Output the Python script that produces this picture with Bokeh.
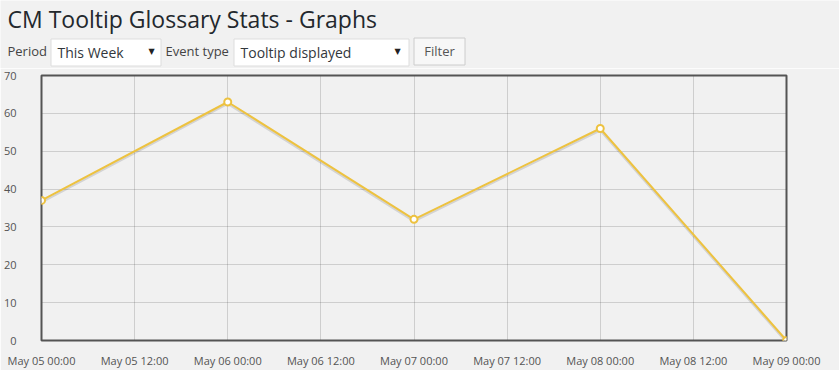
import datetime as dt
from bokeh.plotting import figure
from bokeh.layouts import column
from bokeh.models import Range1d, FixedTicker, DatetimeTickFormatter, ColumnDataSource
from bokeh.core.properties import value
from bokeh.embed import file_html
from bokeh.resources import INLINE

# ---- data ----
page_title = "CM Tooltip Glossary Stats - Graphs"
period_label = "Period"
period_value = "This Week"
event_label = "Event type"
event_value = "Tooltip displayed"
button_label = "Filter"

year = 2015
dates = ["May 05 00:00", "May 06 00:00", "May 07 00:00", "May 08 00:00", "May 09 00:00"]
counts = [37, 63, 32, 56, 0]
x_tick_labels = ["May 05 00:00", "May 05 12:00", "May 06 00:00", "May 06 12:00",
                 "May 07 00:00", "May 07 12:00", "May 08 00:00", "May 08 12:00",
                 "May 09 00:00"]
y_ticks = [0, 10, 20, 30, 40, 50, 60, 70]


def to_ms(label):
    d = dt.datetime.strptime(f"{year} {label}", "%Y %b %d %H:%M").replace(tzinfo=dt.timezone.utc)
    return d.timestamp() * 1000.0


xs = [to_ms(d) for d in dates]
x_ticks = [to_ms(t) for t in x_tick_labels]

BG = "#f1f1f1"
FONT = "Open Sans"
LINE = "#edc240"

# ---- header (title + filter controls) ----
h = figure(width=839, height=68, x_range=Range1d(0, 839), y_range=Range1d(68, 0),
           output_backend="svg", toolbar_location=None, min_border=0,
           x_axis_location=None, y_axis_location=None,
           background_fill_color=BG, border_fill_color=BG, outline_line_color=None)
h.grid.visible = False
h.frame_align = False

h.text(x=[7], y=[18], text=[page_title], text_font=value(FONT), text_font_size="23px",
       text_color="#23282d", text_baseline="middle")

# select boxes and button
h.quad(left=[50.5, 233.5], right=[160.5, 408.5], top=[38.5, 38.5], bottom=[65.5, 65.5],
       fill_color="white", line_color="#dddddd", line_width=1)
h.quad(left=[413.5], right=[464.5], top=[37.5], bottom=[64.5],
       fill_color="#f7f7f7", line_color="#cccccc", line_width=1)

h.text(x=[7, 165], y=[50, 50], text=[period_label, event_label], text_font=value(FONT),
       text_font_size="13px", text_color="#444444", text_baseline="middle")
h.text(x=[57, 240], y=[52, 52], text=[period_value, event_value], text_font=value(FONT),
       text_font_size="14px", text_color="#32373c", text_baseline="middle")
h.text(x=[151, 397], y=[51, 51], text=["\u25bc", "\u25bc"], text_font=value("DejaVu Sans"),
       text_font_size="8px", text_color="#222222", text_baseline="middle", text_align="center")
h.text(x=[439], y=[50.5], text=[button_label], text_font=value(FONT), text_font_size="13px",
       text_color="#555555", text_baseline="middle", text_align="center")

# ---- chart ----
p = figure(width=839, height=302, x_axis_type="datetime",
           x_range=Range1d(xs[0], xs[-1]), y_range=Range1d(0, 70),
           output_backend="svg", toolbar_location=None,
           min_border_left=40, min_border_right=53, min_border_top=7, min_border_bottom=28,
           background_fill_color=BG, border_fill_color=BG,
           outline_line_color="#545454", outline_line_width=2)
p.frame_align = False

p.xaxis.ticker = FixedTicker(ticks=x_ticks)
p.yaxis.ticker = FixedTicker(ticks=y_ticks)
fmt = "%b %d %H:%M"
p.xaxis.formatter = DatetimeTickFormatter(
    microseconds=fmt, milliseconds=fmt, seconds=fmt, minsec=fmt, minutes=fmt,
    hourmin=fmt, hours=fmt, days=fmt, months=fmt, years=fmt)

for ax in (p.xaxis, p.yaxis):
    ax.axis_line_color = None
    ax.major_tick_line_color = None
    ax.minor_tick_line_color = None
    ax.major_label_text_font = FONT
    ax.major_label_text_font_size = "11px"
    ax.major_label_text_color = "#545454"
p.yaxis.major_label_standoff = 19
p.xaxis.major_label_standoff = 6

p.grid.grid_line_color = "#545454"
p.grid.grid_line_alpha = 0.22

src = ColumnDataSource(dict(x=xs, y=counts))

# shadow: same data drawn on a range shifted by ~2px
px_per_unit = 267 / 70.0
off = 2.0 / px_per_unit
p.extra_y_ranges = {"shadow": Range1d(0 + off, 70 + off)}
p.line("x", "y", source=src, y_range_name="shadow", line_color="black", line_alpha=0.12, line_width=2)

p.line("x", "y", source=src, line_color=LINE, line_width=2)
p.scatter("x", "y", source=src, size=7, line_width=2, line_color=LINE, fill_color="white")

layout = column(h, p, spacing=0)
open("out.html", "w").write(file_html(layout, INLINE))
